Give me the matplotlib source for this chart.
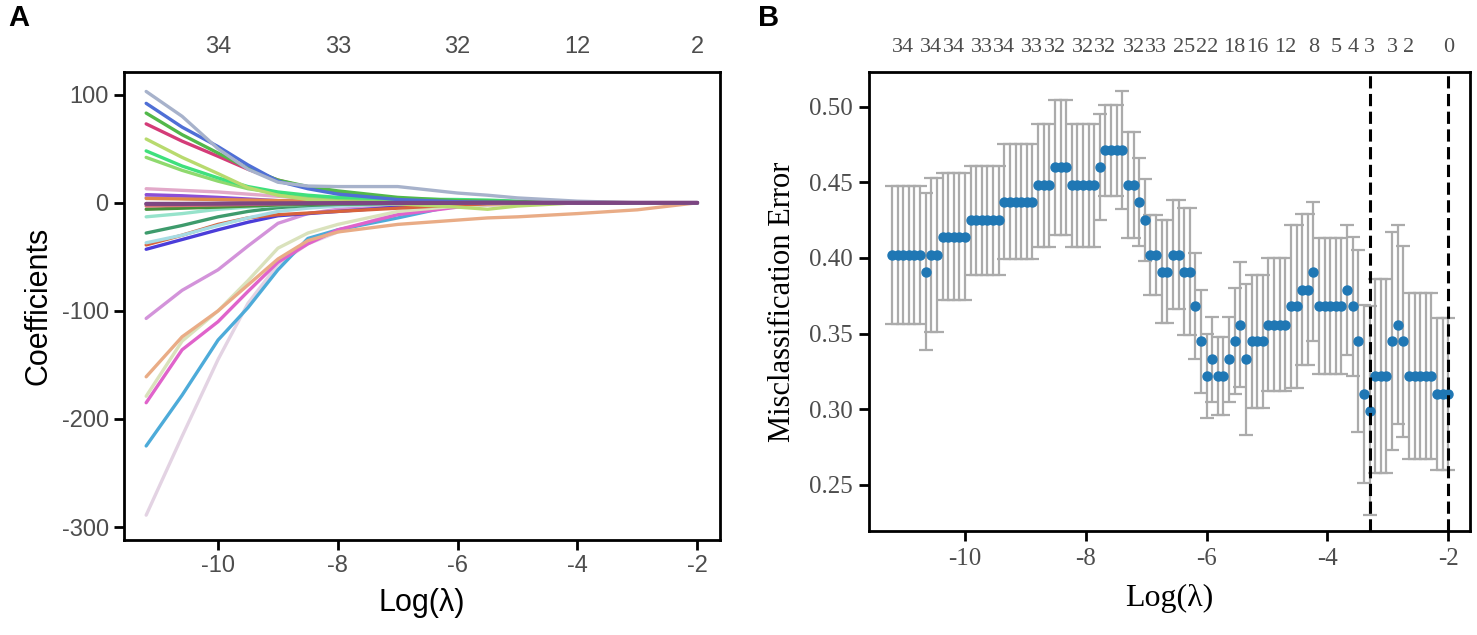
import numpy as np
import matplotlib.pyplot as plt

plt.rcParams['axes.unicode_minus'] = False

# ---------------- panel A: lasso coefficient paths ----------------
coef_loglam = [-11.2, -10.6, -10.0, -9.5, -9.0, -8.5, -8.0, -7.0, -6.0, -5.5, -5.0, -4.0, -3.0, -2.0]

v_grayblue = [103, 80, 50, 31, 19, 15.5, 15, 15, 9, 7, 4.5, 1.5, 0, 0]
v_blue = [92, 70, 52, 35, 20, 13, 8, 3, 1, 0.5, 0.3, 0, 0, 0]
v_green = [83, 63, 46, 32, 21, 15, 11, 5, 2, 1.5, 1, 0.5, 0, 0]
v_crimson = [73, 57, 43, 31, 21, 14, 10, 4, 1.5, 1, 0.5, 0, 0, 0]
v_ygreen = [59, 42, 27, 14, 7, 3, 1, -1, -4, -6, -3, 0, 0, 0]
v_bgreen = [48, 34, 23, 15, 10, 7, 5, 3.5, 3, 2.5, 1.5, 0, 0, 0]
v_lgreen = [42, 30, 20, 13, 9, 6, 4, 2, 1, 0.5, 0, 0, 0, 0]
v_orange = [4, 3.5, 3, 2.5, 2, 1.5, 1.2, 1, 0.8, 0.6, 0.5, 0.3, 0.1, 0]
v_lpink = [13, 11.5, 10, 8, 6, 4, 2, 0.5, 0, 0, 0, 0, 0, 0]
v_purple = [7.5, 6.5, 5, 3.5, 2, 1, 0.5, 0, 0, 0, 0, 0, 0, 0]
v_lavender = [5, 4, 3, 2, 1.5, 1, 0.5, 0, 0, 0, 0, 0, 0, 0]
v_salmon = [-3, -2.5, -2, -1.5, -1, -0.5, 0, 0, 0, 0, 0, 0, 0, 0]
v_dgreen = [-6, -5, -4, -3, -2, -1.5, -1, -0.5, 0, 0, 0, 0, 0, 0]
v_aqua = [-13, -10, -6, -4, -2.5, -1.5, -1, -0.5, 0, 0, 0, 0, 0, 0]
v_teal = [-28, -21, -13, -8, -4.5, -2.5, -1.5, -0.5, 0, 0, 0, 0, 0, 0]
v_lcyan = [-37, -30, -21, -14, -8, -5, -3, -1, 0, 0, 0, 0, 0, 0]
v_orred = [-39, -30, -20, -14, -11, -9.5, -8, -5, -2, -1, -0.5, 0, 0, 0]
v_bviolet = [-43, -34, -25, -18, -12, -10, -8, -4, -1.5, -0.5, 0, 0, 0, 0]
v_orchid = [-107, -81, -62, -40, -19, -10, -6, -3, -1, 0, 0, 0, 0, 0]
v_peach = [-161, -124, -100, -76, -52, -35, -27, -20, -16, -14, -13, -10, -6.5, 0]
v_beige = [-179, -128, -100, -72, -42, -28, -20, -8, -3, -2, -1, 0, 0, 0]
v_magenta = [-185, -136, -110, -82, -55, -38, -25, -11, -4, -2, -1, 0, 0, 0]
v_skyblue = [-225, -178, -127, -97, -62, -33, -25, -14, -2, -1, 0, 0, 0, 0]
v_palepink = [-289, -216, -145, -93, -57, -38, -27, -9, -2, -1, 0, 0, 0, 0]
v_dpurple = [-1, -1, -0.8, -0.6, -0.5, -0.4, -0.3, -0.2, -0.1, 0, 0, 0, 0, 0]

paths = [v_palepink, v_skyblue, v_magenta, v_beige, v_peach, v_orchid,
         v_bviolet, v_orred, v_lcyan, v_teal, v_aqua, v_dgreen, v_salmon,
         v_lavender, v_purple, v_lpink, v_orange, v_lgreen, v_bgreen, v_ygreen,
         v_crimson, v_green, v_blue, v_grayblue, v_dpurple]
path_colors = ['#E3D3E3', '#4DABD9', '#E063CB', '#DAE2BC', '#E9AC86', '#D393DA',
               '#4B3DD9', '#D8633C', '#A6DCE3', '#3E9B6C', '#96E3CB', '#4A8F3A', '#D7737A',
               '#B596E2', '#8B4FD6', '#E2A9C9', '#E0874A', '#8FD96E', '#3FE07C', '#B8DA6E',
               '#D43C78', '#52B84A', '#4F6FD6', '#A7B2CB', '#7D4682']

df_ticks_a = [-10, -8, -6, -4, -2]
df_labels_a = ['34', '33', '32', '12', '2']

# ---------------- panel B: cross-validation error ----------------
# glmnet lambda grid: 100 values, evenly spaced on the log scale
log_lambda = np.linspace(-11.21, -2.0, 100)

cvm = [0.402, 0.402, 0.402, 0.402, 0.402, 0.402, 0.391, 0.402, 0.402, 0.414,
       0.414, 0.414, 0.414, 0.414, 0.425, 0.425, 0.425, 0.425, 0.425, 0.425,
       0.437, 0.437, 0.437, 0.437, 0.437, 0.437, 0.448, 0.448, 0.448, 0.460,
       0.460, 0.460, 0.448, 0.448, 0.448, 0.448, 0.448, 0.460, 0.471, 0.471,
       0.471, 0.471, 0.448, 0.448, 0.437, 0.425, 0.402, 0.402, 0.391, 0.391,
       0.402, 0.402, 0.391, 0.391, 0.368, 0.345, 0.322, 0.333, 0.322, 0.322,
       0.333, 0.345, 0.356, 0.333, 0.345, 0.345, 0.345, 0.356, 0.356, 0.356,
       0.356, 0.368, 0.368, 0.379, 0.379, 0.391, 0.368, 0.368, 0.368, 0.368,
       0.368, 0.379, 0.368, 0.345, 0.310, 0.299, 0.322, 0.322, 0.322, 0.345,
       0.356, 0.345, 0.322, 0.322, 0.322, 0.322, 0.322, 0.310, 0.310, 0.310]

cvsd = [0.0455, 0.0455, 0.0455, 0.0455, 0.0455, 0.0455, 0.052, 0.0507, 0.0507, 0.042,
        0.042, 0.042, 0.042, 0.042, 0.036, 0.036, 0.036, 0.036, 0.036, 0.036,
        0.038, 0.038, 0.038, 0.038, 0.038, 0.038, 0.0405, 0.0405, 0.0405, 0.0446,
        0.0446, 0.0446, 0.0405, 0.0405, 0.0405, 0.0405, 0.0405, 0.035, 0.030, 0.030,
        0.030, 0.039, 0.035, 0.035, 0.029, 0.027, 0.0265, 0.0265, 0.034, 0.034,
        0.036, 0.036, 0.042, 0.042, 0.035, 0.034, 0.028, 0.028, 0.026, 0.026,
        0.028, 0.035, 0.041, 0.050, 0.044, 0.044, 0.044, 0.044, 0.044, 0.044,
        0.044, 0.054, 0.054, 0.050, 0.050, 0.046, 0.045, 0.045, 0.045, 0.045,
        0.045, 0.043, 0.046, 0.060, 0.059, 0.069, 0.064, 0.064, 0.064, 0.072,
        0.066, 0.063, 0.055, 0.055, 0.055, 0.055, 0.055, 0.050, 0.050, 0.050]

nz_index = [2, 7, 11, 16, 20, 25, 29, 34, 38, 43, 47, 52, 56, 61, 65, 70, 75, 79, 82, 85, 89, 92, 99]
nz_labels = ['34', '34', '34', '33', '34', '33', '32', '32', '32', '32', '33', '25',
             '22', '18', '16', '12', '8', '5', '4', '3', '3', '2', '0']

idx_min = 85
idx_1se = 99

# ---------------- figure ----------------
W, H = 1477, 635
fig = plt.figure(figsize=(W / 100, H / 100), dpi=100)

sans = ['Liberation Sans Narrow', 'Liberation Sans', 'DejaVu Sans']
serif = ['Liberation Serif', 'DejaVu Serif']
tick_grey = '#4D4D4D'

axA = fig.add_axes([124 / W, 1 - 540 / H, (720 - 124) / W, (540 - 72) / H])
for vals, col in zip(paths, path_colors):
    lw = 3.0 if col == '#7D4682' else 2.4
    axA.plot(coef_loglam, vals, color=col, lw=lw, solid_capstyle='round')
axA.set_xlim(-11.57, -1.62)
axA.set_ylim(-312, 121)
axA.set_xticks([-10, -8, -6, -4, -2])
axA.set_yticks([-300, -200, -100, 0, 100])
axA.tick_params(direction='out', length=7, width=2, labelsize=17, labelcolor=tick_grey, pad=4)
for lab in axA.get_xticklabels() + axA.get_yticklabels():
    lab.set_family(sans)
for s in axA.spines.values():
    s.set_linewidth(2)
axA.set_xlabel('Log(λ)', fontsize=22, family=sans, labelpad=8)
axA.set_ylabel('Coefficients', fontsize=22, family=sans, labelpad=6)
topA = axA.secondary_xaxis('top')
topA.set_xticks(df_ticks_a)
topA.set_xticklabels(df_labels_a)
topA.tick_params(length=0, labelsize=17, labelcolor=tick_grey, pad=10)
topA.spines['top'].set_visible(False)
for lab in topA.get_xticklabels():
    lab.set_family(sans)

axB = fig.add_axes([869 / W, 1 - 531 / H, (1470 - 869) / W, (531 - 72) / H])
axB.errorbar(log_lambda, cvm, yerr=cvsd, fmt='none', ecolor='#ABABAB',
             elinewidth=1.6, capsize=5, capthick=1.6, zorder=1)
axB.plot(log_lambda, cvm, 'o', color='#1F77B4', ms=6.5, zorder=3)
axB.axvline(log_lambda[idx_min], color='black', lw=2.2, ls=(0, (4, 1.8)), zorder=4)
axB.axvline(log_lambda[idx_1se], color='black', lw=2.2, ls=(0, (4, 1.8)), zorder=4)
axB.set_xlim(-11.59, -1.64)
axB.set_ylim(0.2196, 0.5228)
axB.set_xticks([-10, -8, -6, -4, -2])
axB.set_yticks([0.25, 0.30, 0.35, 0.40, 0.45, 0.50])
axB.set_yticklabels(['0.25', '0.30', '0.35', '0.40', '0.45', '0.50'])
axB.tick_params(direction='out', length=7, width=2, labelsize=18, labelcolor=tick_grey, pad=5)
for lab in axB.get_xticklabels() + axB.get_yticklabels():
    lab.set_family(serif)
for s in axB.spines.values():
    s.set_linewidth(2)
axB.set_xlabel('Log(λ)', fontsize=23, family=serif, labelpad=10)
axB.set_ylabel('Misclassification Error', fontsize=22, family=serif, labelpad=8)
topB = axB.secondary_xaxis('top')
topB.set_xticks([log_lambda[i] for i in nz_index])
topB.set_xticklabels(nz_labels)
topB.tick_params(length=0, labelsize=16, labelcolor=tick_grey, pad=11)
topB.spines['top'].set_visible(False)
for lab in topB.get_xticklabels():
    lab.set_family(serif)

fig.text(8 / W, 1 - 18 / H, 'A', fontsize=21, fontweight='bold', family=sans, va='center')
fig.text(758 / W, 1 - 18 / H, 'B', fontsize=21, fontweight='bold', family=sans, va='center')

fig.savefig('out.png', dpi=100)
